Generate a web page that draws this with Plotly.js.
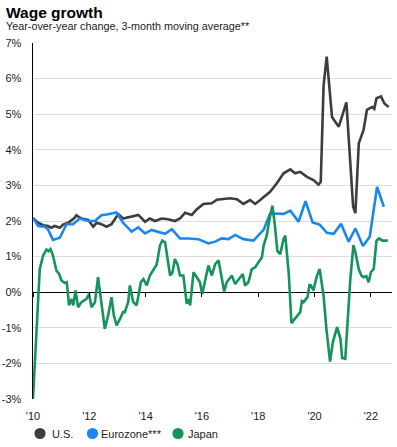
<!DOCTYPE html>
<html><head><meta charset="utf-8">
<script src="https://cdn.plot.ly/plotly-3.0.1.min.js"></script>
<style>html,body{margin:0;padding:0;background:#fff;}#chart{width:397px;height:447px;}</style>
</head><body><div id="chart"></div>
<script>
const usX = [2010.00,2010.18,2010.36,2010.53,2010.65,2010.77,2010.95,2011.07,2011.25,2011.48,2011.54,2011.72,2011.96,2012.14,2012.26,2012.43,2012.61,2012.79,2012.94,2013.03,2013.20,2013.44,2013.74,2013.98,2014.15,2014.33,2014.57,2014.80,2015.04,2015.22,2015.40,2015.64,2015.82,2016.05,2016.35,2016.53,2016.82,2017.00,2017.24,2017.47,2017.71,2017.89,2018.07,2018.42,2018.66,2018.90,2019.14,2019.31,2019.49,2019.73,2019.96,2020.14,2020.22,2020.32,2020.43,2020.62,2020.74,2020.86,2021.00,2021.13,2021.37,2021.45,2021.57,2021.74,2021.86,2022.04,2022.12,2022.20,2022.36,2022.48,2022.63];
const usY = [2.08,1.95,1.88,1.86,1.81,1.86,1.81,1.90,1.95,2.09,2.16,2.07,2.03,1.84,1.95,1.91,1.84,1.91,2.09,2.19,2.07,2.12,2.17,1.98,2.07,2.00,2.07,2.05,2.00,2.07,2.23,2.17,2.33,2.48,2.50,2.60,2.62,2.64,2.61,2.48,2.59,2.48,2.59,2.82,3.06,3.34,3.45,3.34,3.38,3.24,3.15,3.02,3.10,5.80,6.62,4.92,4.78,4.65,5.00,5.33,2.40,2.22,4.18,4.56,5.12,5.20,5.15,5.45,5.50,5.30,5.20];

const euX = [2010.00,2010.18,2010.42,2010.53,2010.71,2010.95,2011.19,2011.42,2011.66,2011.96,2012.20,2012.43,2012.67,2012.96,2013.20,2013.50,2013.74,2013.98,2014.21,2014.45,2014.69,2014.93,2015.22,2015.52,2015.87,2016.23,2016.47,2016.70,2016.94,2017.18,2017.47,2017.83,2018.19,2018.42,2018.66,2018.90,2019.14,2019.43,2019.68,2019.93,2020.18,2020.44,2020.68,2020.94,2021.21,2021.45,2021.72,2021.96,2022.22,2022.46];
const euY = [2.09,1.86,1.84,1.77,1.47,1.53,1.91,1.91,2.07,2.00,2.00,2.16,2.19,2.24,1.95,1.70,1.82,1.65,1.75,1.70,1.64,1.77,1.51,1.51,1.49,1.37,1.42,1.51,1.49,1.61,1.49,1.45,1.75,2.21,2.20,2.20,2.29,1.98,2.56,1.96,1.90,1.67,1.64,1.92,1.42,1.79,1.30,1.56,2.96,2.40];

const jpX = [2010.00,2010.24,2010.36,2010.48,2010.55,2010.62,2010.71,2010.83,2010.93,2011.01,2011.13,2011.20,2011.28,2011.37,2011.43,2011.51,2011.60,2011.72,2011.90,2011.99,2012.08,2012.20,2012.31,2012.39,2012.55,2012.67,2012.79,2012.87,2012.97,2013.09,2013.20,2013.26,2013.38,2013.44,2013.56,2013.68,2013.83,2013.92,2014.04,2014.15,2014.30,2014.39,2014.51,2014.59,2014.69,2014.79,2014.87,2014.95,2015.04,2015.13,2015.22,2015.34,2015.46,2015.52,2015.58,2015.70,2015.82,2015.93,2016.01,2016.11,2016.23,2016.35,2016.47,2016.59,2016.70,2016.79,2016.88,2017.06,2017.18,2017.30,2017.45,2017.53,2017.65,2017.77,2017.89,2018.01,2018.13,2018.19,2018.30,2018.40,2018.50,2018.58,2018.68,2018.78,2018.90,2018.96,2019.08,2019.18,2019.35,2019.49,2019.55,2019.61,2019.75,2019.82,2019.87,2019.96,2020.08,2020.18,2020.32,2020.42,2020.55,2020.65,2020.80,2020.92,2020.98,2021.09,2021.18,2021.27,2021.38,2021.45,2021.57,2021.66,2021.74,2021.84,2021.92,2022.00,2022.10,2022.20,2022.29,2022.41,2022.60];
const jpY = [-2.99,0.65,1.03,1.20,1.15,1.21,1.03,0.61,0.51,0.33,0.26,0.28,-0.37,-0.19,-0.37,0.05,-0.42,-0.28,-0.19,-0.05,-0.42,-0.28,0.42,-0.09,-1.03,-0.65,-0.14,-0.65,-0.93,-0.75,-0.56,-0.56,-0.28,0.19,-0.28,-0.37,0.28,0.37,0.19,0.47,0.65,0.77,1.31,1.45,1.40,0.84,0.47,0.55,0.93,0.79,0.47,0.47,-0.33,-0.19,-0.37,0.56,0.42,0.28,-0.05,0.28,0.75,0.47,0.79,0.89,0.37,0.02,0.28,0.47,0.23,0.37,0.51,0.19,0.28,0.65,0.70,0.84,0.98,1.31,1.59,2.06,2.43,1.96,1.15,1.07,1.50,1.59,0.56,-0.87,-0.70,-0.56,-0.25,-0.28,-0.14,0.20,0.19,0.05,0.45,0.65,-0.10,-1.03,-1.95,-1.40,-0.98,-1.31,-1.85,-1.87,-0.75,0.37,1.32,1.12,0.65,0.47,0.42,0.45,0.28,0.56,0.65,1.45,1.51,1.45,1.45];

const seriesNames = ['U.S.', 'Eurozone***', 'Japan'];
const seriesColors = ['#3d3d3d', '#1a86f0', '#14935a'];
const yTickVals = [-3,-2,-1,0,1,2,3,4,5,6,7];
const yTickText = ['-3%','-2%','-1%','0%','1%','2%','3%','4%','5%','6%','7%'];
const xTickVals = [2010,2012,2014,2016,2018,2020,2022];
const xTickText = ["'10","'12","'14","'16","'18","'20","'22"];

const FONT = 'Liberation Sans, Arial, sans-serif';
const W = 397, H = 447, ML = 33, MR = 5, MT = 43, MB = 48;
const PW = W - ML - MR, PH = H - MT - MB;
const px = v => (v - ML) / PW;          // pixel x -> paper x
const py = v => (H - MB - v) / PH;      // pixel y -> paper y

const data = [];
const xs = [usX, euX, jpX], ys = [usY, euY, jpY];
for (let i = 0; i < 3; i++) {
  data.push({x: xs[i], y: ys[i], type: 'scatter', mode: 'lines', name: seriesNames[i],
    line: {color: seriesColors[i], width: 2.6}, showlegend: false, hoverinfo: 'skip'});
}
// carrier for the tick marks on the zero line
data.push({x: [null], y: [null], xaxis: 'x2', type: 'scatter', mode: 'markers', showlegend: false});

// legend built from the series names/colours
const legendDotX = [40, 92.5, 178];
const legendTextX = [51.7, 100.7, 188.3];
const legendY = 433.5;
const shapes = [], annotations = [];
for (let i = 0; i < 3; i++) {
  shapes.push({type: 'circle', xref: 'paper', yref: 'paper', xsizemode: 'pixel', ysizemode: 'pixel',
    xanchor: px(legendDotX[i]), yanchor: py(legendY), x0: -5.6, x1: 5.6, y0: -5.6, y1: 5.6,
    fillcolor: seriesColors[i], line: {width: 0}});
  annotations.push({text: seriesNames[i], xref: 'paper', yref: 'paper', x: px(legendTextX[i] - 2), xanchor: 'left',
    y: py(legendY), yanchor: 'middle', showarrow: false, font: {size: 11, color: '#1a1a1a'}});
}
annotations.push({text: '<b>Wage growth</b>', xref: 'paper', yref: 'paper', x: px(4), xanchor: 'left',
  y: py(12), yanchor: 'middle', showarrow: false, font: {size: 15.5, color: '#000'}});
annotations.push({text: 'Year-over-year change, 3-month moving average**', xref: 'paper', yref: 'paper', x: px(4), xanchor: 'left',
  y: py(26), yanchor: 'middle', showarrow: false, font: {size: 10.8, color: '#1a1a1a'}});

const layout = {
  width: W, height: H,
  margin: {l: ML, r: MR, t: MT, b: MB, autoexpand: false},
  paper_bgcolor: '#fff', plot_bgcolor: '#fff',
  font: {family: FONT, size: 11, color: '#1a1a1a'},
  showlegend: false,
  xaxis: {range: [2010, 2022.75], tickvals: xTickVals, ticktext: xTickText,
    showgrid: false, zeroline: false, showline: false, ticks: '',
    ticklabelstandoff: 9, tickfont: {size: 11, color: '#1a1a1a'}, fixedrange: true},
  xaxis2: {range: [2010, 2022.75], tickvals: xTickVals, overlaying: 'x', anchor: 'free',
    position: 0.3, side: 'bottom', ticks: 'outside', ticklen: 4, tickwidth: 1, tickcolor: '#000',
    showticklabels: false, showgrid: false, zeroline: false, showline: false},
  yaxis: {range: [-3, 7], tickvals: yTickVals, ticktext: yTickText,
    showgrid: true, gridcolor: '#dcdcdc', gridwidth: 1,
    zeroline: true, zerolinecolor: '#000', zerolinewidth: 1.3,
    showline: true, linecolor: '#000', linewidth: 1.5,
    ticks: '', ticklabelstandoff: 8, tickfont: {size: 11, color: '#1a1a1a'}, fixedrange: true},
  shapes: shapes,
  annotations: annotations
};
Plotly.newPlot('chart', data, layout, {displayModeBar: false, staticPlot: true});
</script></body></html>
